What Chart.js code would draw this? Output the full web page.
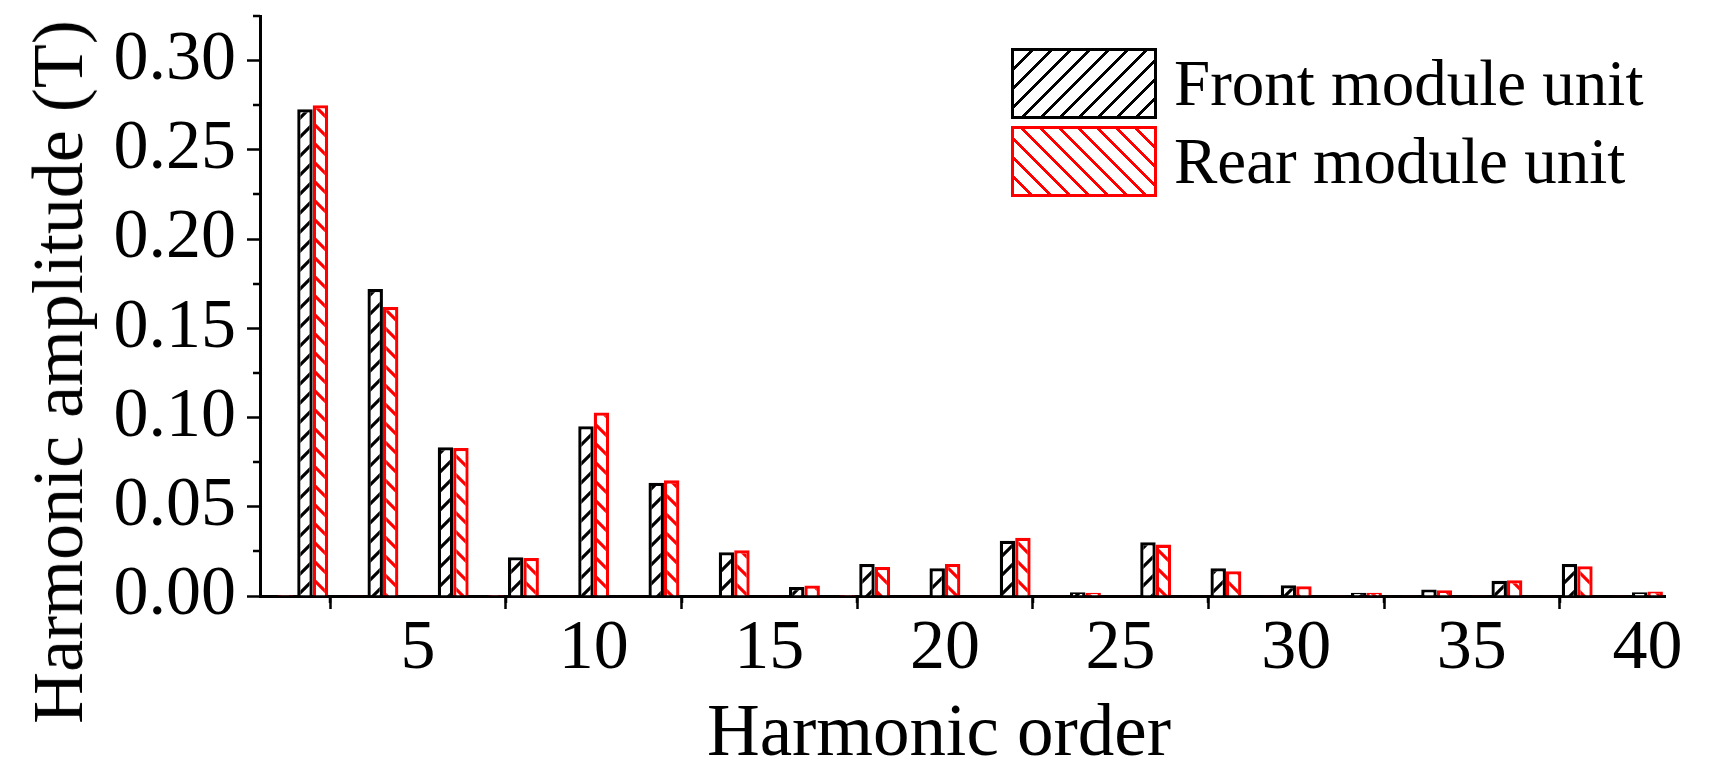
<!DOCTYPE html>
<html>
<head>
<meta charset="utf-8">
<title>Harmonic amplitude</title>
<script src="https://cdn.jsdelivr.net/npm/chart.js@4.4.1/dist/chart.umd.min.js"></script>
<style>
  html, body { margin: 0; padding: 0; background: #fff; }
  #wrap { position: relative; width: 1713px; height: 780px; overflow: hidden; }
  #chart { position: absolute; left: 0; top: 0; }
  .ttl {
    position: absolute; white-space: nowrap;
    font-family: 'Liberation Serif', 'Times New Roman', serif;
    font-size: 72px; line-height: 72px; color: #000;
    transform: translate(-50%, -50%);
  }
  #yTitle { transform: translate(-50%, -50%) rotate(-90deg); }
  #legend { position: absolute; left: 1011px; top: 48px; }
  .leg-row { display: flex; align-items: center; height: 71px; margin-bottom: 7px; }
  .leg-box { width: 146px; height: 71px; box-sizing: border-box; border: 3px solid; }
  .leg-txt {
    margin-left: 17px; white-space: nowrap;
    font-family: 'Liberation Serif', 'Times New Roman', serif;
    font-size: 65px; line-height: 65px; color: #000;
  }
</style>
</head>
<body>
<div id="wrap">
  <canvas id="chart" width="1713" height="780"></canvas>
  <div class="ttl" id="xTitle" style="left:939px; top:731px; font-size:73px;">Harmonic order</div>
  <div class="ttl" id="yTitle" style="left:58px; top:372px;">Harmonic amplitude (T)</div>
  <div id="legend"></div>
</div>
<script>
// harmonic orders 1..40, odd orders are practically zero
const orders = [1, 2, 3, 4, 5, 6, 7, 8, 9, 10, 11, 12, 13, 14, 15, 16, 17, 18, 19, 20,
  21, 22, 23, 24, 25, 26, 27, 28, 29, 30, 31, 32, 33, 34, 35, 36, 37, 38, 39, 40];

const frontUnit = [0.0002, 0.2728, 0.0002, 0.1720, 0.0002, 0.0834, 0.0002, 0.0217, 0.0002, 0.0951,
  0.0002, 0.0635, 0.0002, 0.0245, 0.0002, 0.0051, 0.0002, 0.0180, 0.0002, 0.0156,
  0.0002, 0.0310, 0.0002, 0.0021, 0.0002, 0.0301, 0.0002, 0.0156, 0.0002, 0.0060,
  0.0002, 0.0018, 0.0002, 0.0036, 0.0002, 0.0085, 0.0002, 0.0180, 0.0002, 0.0021];

const rearUnit = [0.0005, 0.2750, 0.0002, 0.1619, 0.0002, 0.0829, 0.0006, 0.0213, 0.0002, 0.1028,
  0.0002, 0.0648, 0.0002, 0.0256, 0.0002, 0.0059, 0.0006, 0.0163, 0.0002, 0.0180,
  0.0002, 0.0327, 0.0002, 0.0018, 0.0002, 0.0288, 0.0002, 0.0139, 0.0002, 0.0055,
  0.0002, 0.0018, 0.0002, 0.0032, 0.0002, 0.0088, 0.0002, 0.0167, 0.0002, 0.0025];

const seriesNames = ['Front module unit', 'Rear module unit'];
const seriesColors = ['#000000', '#ff0000'];

const xTicks = [5, 10, 15, 20, 25, 30, 35, 40];
const xMinorTicks = [2.5, 7.5, 12.5, 17.5, 22.5, 27.5, 32.5, 37.5];
const yTicks = [0, 0.05, 0.10, 0.15, 0.20, 0.25, 0.30];
const yMinorTicks = [0.025, 0.075, 0.125, 0.175, 0.225, 0.275, 0.325];

const serif = "'Liberation Serif', 'Times New Roman', serif";

// diagonal hatch, dir 1 = '/', dir -1 = '\'
function hatch(color, dir) {
  const s = 19;
  const c = document.createElement('canvas');
  c.width = s; c.height = s;
  const g = c.getContext('2d');
  g.fillStyle = '#fff';
  g.fillRect(0, 0, s, s);
  g.strokeStyle = color;
  g.lineWidth = 3.2;
  g.beginPath();
  if (dir > 0) {
    g.moveTo(-s / 2, s / 2); g.lineTo(s / 2, -s / 2);
    g.moveTo(0, s); g.lineTo(s, 0);
    g.moveTo(s / 2, s * 1.5); g.lineTo(s * 1.5, s / 2);
  } else {
    g.moveTo(-s / 2, s / 2); g.lineTo(s / 2, s * 1.5);
    g.moveTo(0, 0); g.lineTo(s, s);
    g.moveTo(s / 2, -s / 2); g.lineTo(s * 1.5, s / 2);
  }
  g.stroke();
  return g.createPattern(c, 'repeat');
}

const ctx = document.getElementById('chart').getContext('2d');

const minorTickPlugin = {
  id: 'minorTicks',
  afterDraw(chart) {
    const { ctx, scales: { x, y } } = chart;
    ctx.save();
    ctx.strokeStyle = '#000';
    ctx.lineWidth = 2.5;
    ctx.beginPath();
    xMinorTicks.forEach(v => {
      const px = Math.round(x.getPixelForValue(v));
      ctx.moveTo(px, x.top); ctx.lineTo(px, x.top + 7);
    });
    yMinorTicks.forEach(v => {
      const py = Math.round(y.getPixelForValue(v));
      ctx.moveTo(y.right, py); ctx.lineTo(y.right - 7, py);
    });
    ctx.stroke();
    ctx.restore();
  }
};

const datasets = [frontUnit, rearUnit].map((vals, i) => ({
  label: seriesNames[i],
  data: orders.map((o, k) => ({ x: o, y: vals[k] })),
  backgroundColor: hatch(seriesColors[i], i === 0 ? 1 : -1),
  borderColor: seriesColors[i],
  borderWidth: 3.3,
  borderSkipped: 'start',
  categoryPercentage: 0.88,
  barPercentage: 1
}));

new Chart(ctx, {
  type: 'bar',
  data: { datasets },
  plugins: [minorTickPlugin],
  options: {
    responsive: false,
    animation: false,
    devicePixelRatio: 1,
    layout: { padding: { left: 0, top: 16, right: 48, bottom: 0 } },
    plugins: { legend: { display: false }, tooltip: { enabled: false } },
    scales: {
      x: {
        type: 'linear',
        min: 0.5,
        max: 40.5,
        offset: false,
        z: 1,
        afterBuildTicks: s => { s.ticks = xTicks.map(v => ({ value: v })); },
        afterFit: s => { s.height = 184; s.paddingLeft = 0; s.paddingRight = 0; },
        border: { display: true, color: '#000', width: 3 },
        grid: { drawOnChartArea: false, drawTicks: true, tickLength: 13, tickWidth: 2.5, tickColor: '#000' },
        ticks: {
          color: '#000',
          padding: 6,
          maxRotation: 0,
          font: { family: serif, size: 70, lineHeight: 1 },
          callback: v => String(v)
        }
      },
      y: {
        min: 0,
        max: 0.325,
        z: 1,
        afterBuildTicks: s => { s.ticks = yTicks.map(v => ({ value: v })); },
        afterFit: s => { s.width = 260; s.paddingTop = 0; s.paddingBottom = 0; },
        border: { display: true, color: '#000', width: 3 },
        grid: { drawOnChartArea: false, drawTicks: true, tickLength: 13, tickWidth: 2.5, tickColor: '#000' },
        ticks: {
          color: '#000',
          padding: 11,
          font: { family: serif, size: 70, lineHeight: 1 },
          callback: v => v.toFixed(2)
        }
      }
    }
  }
});

// legend with hatched swatches
const legend = document.getElementById('legend');
seriesNames.forEach((name, i) => {
  const row = document.createElement('div');
  row.className = 'leg-row';
  const box = document.createElement('div');
  box.className = 'leg-box';
  box.style.borderColor = seriesColors[i];
  const ang = i === 0 ? '-45deg' : '45deg';
  box.style.background = 'repeating-linear-gradient(' + ang + ', #fff 0px, #fff 10.4px, ' +
    seriesColors[i] + ' 10.4px, ' + seriesColors[i] + ' 13.4px)';
  const txt = document.createElement('span');
  txt.className = 'leg-txt';
  txt.textContent = name;
  row.appendChild(box);
  row.appendChild(txt);
  legend.appendChild(row);
});
</script>
</body>
</html>
